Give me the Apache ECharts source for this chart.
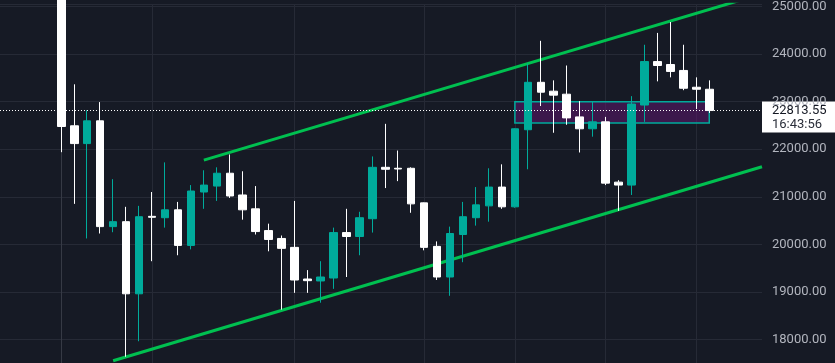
<!DOCTYPE html>
<html>
<head>
<meta charset="utf-8">
<script src="https://cdn.jsdelivr.net/npm/echarts@6/dist/echarts.min.js"></script>
<style>
html,body{margin:0;padding:0;background:#161a25;}
#c{width:835px;height:363px;}
</style>
</head>
<body>
<div id="c"></div>
<script>
// ---- data ----
const opens  = [25600,22493,22119,22597,20374,20478,18962,20590,20561,20727,19979,21101,21226,21496,21039,20748,20291,20125,19938,19273,19232,19294,20249,20166,20540,21620,21600,21600,20873,19959,19315,20208,20561,20810,21205,20790,22410,23407,23220,23157,22680,22430,22576,21309,21247,22929,23843,23781,23656,23303,23261];
const closes = [22478,22119,22597,20374,20478,18962,20582,20570,20727,19979,21122,21247,21496,21018,20727,20270,20104,19917,19252,19238,19315,20249,20166,20561,21620,21579,21585,20852,19938,19315,20229,20582,20831,21205,20790,22430,23407,23199,23137,22659,22430,22576,21288,21247,22950,23843,23760,23635,23282,23261,22813.55];
const lows   = [21938,20852,20125,20229,20256,17639,17965,19647,20353,19772,19896,20748,20914,20977,20520,20208,19855,18629,18982,18982,18775,19066,19315,19772,20249,21184,21330,20665,19876,19252,18920,19626,20395,20478,20748,20770,21579,22908,22347,22514,21932,22264,21247,20706,21039,22576,23427,23511,23241,22846,22763];
const highs  = [25900,23365,22819,22991,21371,20790,20810,21101,21724,20893,21247,21558,21620,21890,21537,21226,20436,20187,20914,19460,19647,20353,20748,20686,21849,22534,21973,21620,20880,20063,20374,20893,21205,21600,21683,22440,23801,24279,23448,23760,23012,22998,22680,21350,23116,24196,24445,24674,24196,23511,23448];
const gridIdx = [0, 7, 18, 28, 35, 42, 49];
const upperChannel = [[11, 21772], [54.07, 25268]];
const lowerChannel = [[4, 17555], [54.07, 21633]];
const boxX = [35, 50];
const boxY = [22550, 23000];
const lastPrice = 22813.55;
const lastPriceText = '22813.55';
const countdownText = '16:43:56';
const xMin = -4.73, xMax = 54.07;
const yMin = 17507.7, yMax = 25047.8;

const candleData = opens.map((o, i) => [i, o, closes[i], lows[i], highs[i]]);

const UP = '#00ab9b', DOWN = '#ffffff', GREEN = '#00c050';
const chart = echarts.init(document.getElementById('c'), null, {renderer: 'canvas'});
chart.setOption({
  animation: false,
  backgroundColor: '#161a25',
  grid: {left: 0, right: 73, top: 0, bottom: 0},
  xAxis: {type: 'value', min: xMin, max: xMax, show: false, splitLine: {show: false}},
  yAxis: {
    type: 'value', position: 'right', min: yMin, max: yMax, splitNumber: 7, scale: true,
    axisLine: {show: true, lineStyle: {color: '#363a45', width: 1}},
    axisTick: {show: false},
    splitLine: {show: true, lineStyle: {color: '#262a36', width: 1}},
    axisLabel: {
      color: '#b2b5be', fontSize: 13, fontFamily: 'Roboto', margin: 10, align: 'left',
      formatter: v => (Math.abs(v % 1000) < 1e-6 ? v.toFixed(2) : '')
    }
  },
  series: [
    {
      type: 'line', data: lowerChannel, showSymbol: false, symbol: 'none', z: 1,
      lineStyle: {color: GREEN, width: 3}, clip: true,
      markLine: {
        silent: true, symbol: 'none', z: 0, label: {show: false},
        lineStyle: {color: '#262a36', width: 1, type: 'solid'},
        data: gridIdx.map(i => ({xAxis: i}))
      }
    },
    {
      type: 'line', data: upperChannel, showSymbol: false, symbol: 'none', z: 1,
      lineStyle: {color: GREEN, width: 3}, clip: true,
      markArea: {
        silent: true, z: 1,
        itemStyle: {color: 'rgba(92,24,110,0.55)', borderColor: UP, borderWidth: 1.5},
        data: [[{coord: [boxX[0], boxY[1]]}, {coord: [boxX[1], boxY[0]]}]]
      }
    },
    {
      type: 'candlestick', data: candleData, z: 2, barWidth: 8, clip: true,
      encode: {x: 0, y: [1, 2, 3, 4]},
      itemStyle: {color: UP, color0: DOWN, borderColor: UP, borderColor0: DOWN, borderColorDoji: DOWN, borderWidth: 1},
      markLine: {
        silent: true, symbol: 'none', z: 5, label: {show: false},
        lineStyle: {color: '#ffffff', width: 1, type: [1, 2]},
        data: [{yAxis: lastPrice}]
      }
    }
  ]
});

const py = chart.convertToPixel({yAxisIndex: 0}, lastPrice);
const pxR = chart.convertToPixel({xAxisIndex: 0}, xMax);
chart.setOption({
  graphic: [{
    type: 'group', z: 100,
    children: [
      {type: 'rect', shape: {x: pxR, y: py - 9, width: 835 - pxR, height: 31}, style: {fill: '#ffffff'}},
      {type: 'text', style: {text: lastPriceText, x: pxR + 10, y: py, fill: '#131722', font: '13px Roboto', verticalAlign: 'middle', align: 'left'}},
      {type: 'text', style: {text: countdownText, x: pxR + 10, y: py + 14, fill: '#2a2e39', font: '13px Roboto', verticalAlign: 'middle', align: 'left'}}
    ]
  }]
});
</script>
</body>
</html>
